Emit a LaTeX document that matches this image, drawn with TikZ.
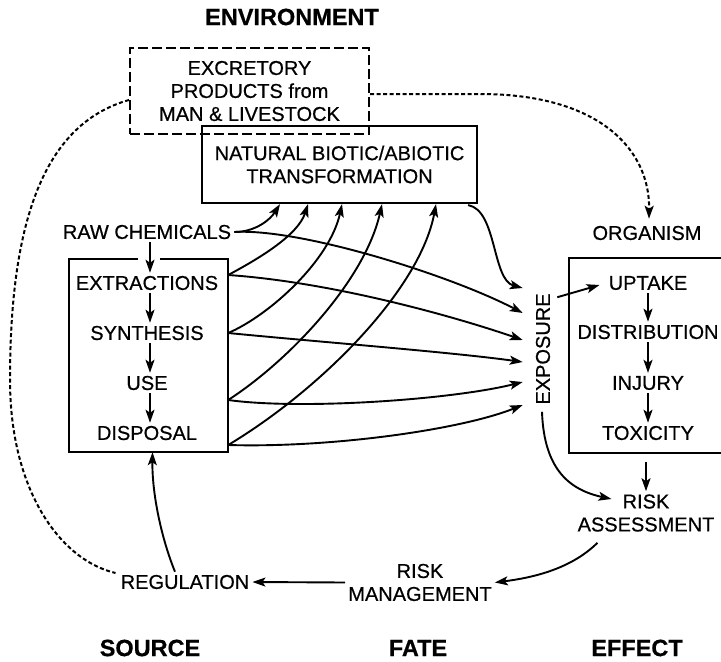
\documentclass[tikz,border=0pt]{standalone}
\usepackage{fontspec}
\setmainfont{Liberation Sans}[FakeBold=0.6]
\usetikzlibrary{arrows.meta,calc}
\begin{document}
\begin{tikzpicture}[x=1pt,y=-1pt,
  every node/.style={font=\fontsize{20}{23}\selectfont, inner sep=3pt, align=center},
  title/.style={font=\fontsize{23.5}{27}\selectfont\bfseries},
  box/.style={draw, line width=2.2pt},
  dbox/.style={draw, line width=2pt, dash pattern=on 10pt off 4pt},
  arr/.style={line width=1.9pt, -{Stealth[length=13pt,width=9pt,inset=3pt]}},
  darr/.style={line width=2pt, dash pattern=on 4pt off 2.5pt, -{Stealth[length=13pt,width=9pt,inset=3pt]}},
  dline/.style={line width=2pt, dash pattern=on 4pt off 2.5pt},
  outline/.style={line width=2.2pt},
]
\useasboundingbox (0,0) rectangle (721,662);
\clip (0,0) rectangle (721,662);

% titles
\node[title] (env) at (292,17) {ENVIRONMENT};
\node[title] (source) at (150,648) {SOURCE};
\node[title] (fate) at (418,648) {FATE};
\node[title] (effect) at (637,648) {EFFECT};

% boxes
\node[dbox, minimum width=239, minimum height=86] (excr) at (249.5,91)
  {EXCRETORY\\PRODUCTS from\\MAN \& LIVESTOCK};
\node[box, minimum width=275, minimum height=77] (nat) at (339.5,164.5)
  {NATURAL BIOTIC/ABIOTIC\\TRANSFORMATION};

% source column
\node (raw) at (147,232) {RAW CHEMICALS};
\node[minimum width=159, minimum height=193] (src) at (148.5,355.5) {};
\draw[outline] ($(src.north)+(11,0)$) -- (src.north east) -- (src.south east)
  -- (src.south west) -- (src.north west) -- ($(src.north)+(-11,0)$);
\node (ext) at (147,283) {EXTRACTIONS};
\node (syn) at (147,333) {SYNTHESIS};
\node (use) at (147,383) {USE};
\node (disp) at (147,433) {DISPOSAL};

\draw[arr] ($(raw.south)+(3,0)$) -- ($(ext.north)+(3,0)$);
\draw[arr] ($(ext.south)+(3,0)$) -- ($(syn.north)+(3,0)$);
\draw[arr] ($(syn.south)+(3,0)$) -- ($(use.north)+(3,0)$);
\draw[arr] ($(use.south)+(3,0)$) -- ($(disp.north)+(3,0)$);

% effect column
\node (org) at (647,233) {ORGANISM};
\node[box, minimum width=172, minimum height=195] (orgbox) at (655,355.5) {};
\node (upt) at (648,283) {UPTAKE};
\node (dist) at (648,332) {DISTRIBUTION};
\node (inj) at (648,383) {INJURY};
\node (tox) at (648,433) {TOXICITY};
\draw[arr] (upt.south) -- (dist.north);
\draw[arr] (dist.south) -- (inj.north);
\draw[arr] (inj.south) -- (tox.north);

\node[rotate=90] (expo) at (543,349) {EXPOSURE};
\node (riska) at (646,513) {RISK\\ASSESSMENT};
\node (riskm) at (420,582.5) {RISK\\MANAGEMENT};
\node (reg) at (185,582) {REGULATION};

% dashed connectors
\draw[darr] ($(excr.east)+(0,3)$) -- (480,94) .. controls (600,94) and (650,150) .. ($(org.north)+(2,-4)$);
\draw[dline] ($(excr.west)+(0,9)$) .. controls (40,125) and (10,230) .. (10,380)
  .. controls (10,490) and (60,560) .. ($(reg.west)+(-2,-9)$);

% upward to transformation
\draw[arr] (raw.east) .. controls (255,232) and (270,220) .. ($(nat.south)+(-59.5,0)$);
\draw[arr] ($(src.east |- ext)+(0,-8)$) .. controls (260,258) and (298,235) .. ($(nat.south)+(-31.5,0)$);
\draw[arr] ($(src.east |- syn)+(0,0)$) .. controls (270,315) and (330,260) .. ($(nat.south)+(2.5,0)$);
\draw[arr] ($(src.east |- use)+(0,17)$) .. controls (290,360) and (365,280) .. ($(nat.south)+(42.5,0)$);
\draw[arr] ($(src.east |- disp)+(0,12)$) .. controls (320,390) and (420,290) .. ($(nat.south)+(96.5,0)$);

% toward exposure
\draw[arr] ($(nat.south east)+(-10,1)$) .. controls (497,210) and (492,280) .. ($(expo.north)+(-10,-61)$);
\draw[arr] (raw.east) .. controls (300,228) and (450,275) .. ($(expo.north)+(-10,-36)$);
\draw[arr] ($(src.east |- ext)+(0,-8)$) .. controls (330,282) and (450,315) .. ($(expo.north)+(-10,-9)$);
\draw[arr] ($(src.east |- syn)+(0,0)$) .. controls (320,342) and (450,352) .. ($(expo.north)+(-10,13)$);
\draw[arr] ($(src.east |- use)+(0,17)$) .. controls (300,410) and (450,400) .. ($(expo.north)+(-10,33)$);
\draw[arr] ($(src.east |- disp)+(0,12)$) .. controls (330,448) and (460,430) .. ($(expo.north)+(-10,56)$);

% exposure onward
\draw[arr] ($(expo.south east)+(4,7)$) -- ($(upt.west)+(-6,2)$);
\draw[arr] ($(expo.west)+(-1,4)$) .. controls (544,470) and (570,490) .. ($(riska.west)+(37,-14)$);
\draw[arr] ($(riska.north |- orgbox.south)+(0,8)$) -- (riska.north);
\draw[arr] ($(riska.south west)+(23,8)$) .. controls (570,570) and (530,578) .. (riskm.east);
\draw[arr] (riskm.west) -- (reg.east);
\draw[arr] ($(reg.north)+(-10,0)$) .. controls (162,540) and (152,495) .. ($(src.south)+(4,0)$);
\end{tikzpicture}
\end{document}
